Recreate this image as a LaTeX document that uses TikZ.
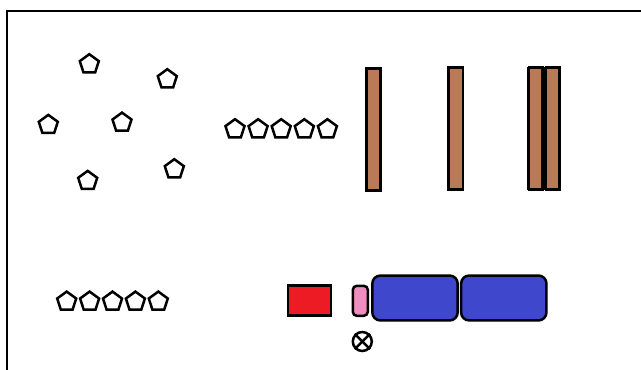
\documentclass[tikz,border=0pt]{standalone}
\usetikzlibrary{shapes.geometric}
\definecolor{woodbrown}{HTML}{B97A57}
\definecolor{paintred}{HTML}{ED1C24}
\definecolor{paintpink}{HTML}{F08CC0}
\definecolor{paintblue}{HTML}{3F48CC}
\tikzset{
  penta/.style={regular polygon, regular polygon sides=5, draw=black, line width=2.5pt,
    inner sep=0pt, outer sep=0pt, minimum size=20pt, fill=white},
  bar/.style={rectangle, draw=black, line width=2.5pt, fill=woodbrown, inner sep=0pt,
    minimum width=14.2pt, minimum height=121.9pt},
  halfbar/.style={rectangle, draw=black, line width=2.5pt, fill=woodbrown, inner sep=0pt,
    minimum width=13.5pt, minimum height=121.9pt},
  redbox/.style={rectangle, draw=black, line width=2.5pt, fill=paintred, inner sep=0pt,
    minimum width=43.1pt, minimum height=29.9pt},
  pinkbox/.style={rectangle, draw=black, line width=2.5pt, fill=paintpink, inner sep=0pt,
    rounded corners=4pt, minimum width=15pt, minimum height=30pt},
  bluebox/.style={rectangle, draw=black, line width=2.5pt, fill=paintblue, inner sep=0pt,
    rounded corners=8pt, minimum width=85.3pt, minimum height=44.9pt},
  otimes/.style={circle, draw=black, line width=2.5pt, inner sep=0pt, minimum size=19pt},
  xline/.style={line width=2.5pt}
}
\begin{document}
\begin{tikzpicture}[x=1pt,y=-1pt]
\useasboundingbox (0,0) rectangle (641,370);
\clip (0,0) rectangle (641,370);
\fill[white] (0,0) rectangle (641,370);
% frame
\draw[line width=2pt] (6.5,10.5) rectangle (700,420);
% scattered pentagons
\node[penta] (p1) at (89.3,64.2) {};
\node[penta] (p2) at (167.3,79.2) {};
\node[penta] (p3) at (48.3,124.9) {};
\node[penta] (p4) at (122,122.6) {};
\node[penta] (p5) at (174.3,169.2) {};
\node[penta] (p6) at (87.7,180.9) {};
% row of pentagons (top)
\foreach \i in {0,...,4} {
  \node[penta] (ra\i) at ({235+23.1*\i},129.2) {};
}
% row of pentagons (bottom)
\foreach \i in {0,...,4} {
  \node[penta] (rb\i) at ({66.7+22.9*\i},301.6) {};
}
% bars
\node[bar] (b1) at (373.4,129.5) {};
\node[bar] (b2) at (455.7,128.5) {};
\fill[black] (527.3,67.3) rectangle (561,189.7);
\node[halfbar] (b3l) at (535.6,128.5) {};
\node[halfbar] (b3r) at (552.7,128.5) {};
% bottom parts
\node[redbox] (red) at (309.5,300.5) {};
\node[pinkbox] (pink) at (360.3,300.8) {};
\node[bluebox] (blue1) at (415,298) {};
\node[bluebox] (blue2) at (503.8,298) {};
\node[otimes] (ox) at (362.3,341.5) {};
\draw[xline] (ox.45) -- (ox.225);
\draw[xline] (ox.135) -- (ox.315);
\end{tikzpicture}
\end{document}
